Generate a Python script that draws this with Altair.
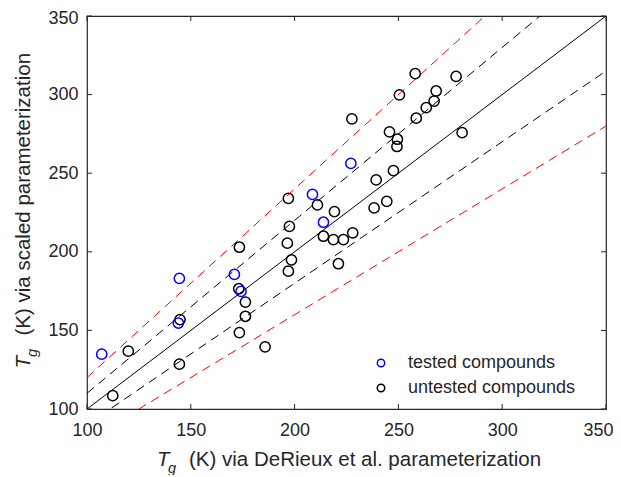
import altair as alt
import pandas as pd

# ---- data ----
tested_x = [107.1, 144.5, 144.0, 171.0, 174.2, 213.9, 208.6, 227.1]
tested_y = [134.9, 183.1, 154.7, 185.6, 174.8, 218.8, 236.5, 256.2]

untested_x = [112.4, 119.9, 144.8, 144.5, 173.4, 173.1, 176.3, 176.3, 173.4, 185.8,
              197.5, 196.5, 198.5, 197.0, 213.9, 218.7, 223.5, 228.0, 221.1, 227.6,
              197.0, 211.0, 219.2, 258.1, 277.8, 250.5, 268.2, 267.2, 263.4, 258.6,
              245.7, 249.5, 249.3, 280.7, 247.6, 239.3, 244.4, 238.3]
untested_y = [108.5, 136.8, 156.9, 128.5, 202.9, 176.5, 168.0, 159.0, 148.6, 139.5,
              216.2, 205.5, 194.9, 187.7, 209.9, 207.8, 207.8, 212.0, 192.4, 284.5,
              234.0, 229.8, 225.6, 313.3, 311.6, 299.8, 302.3, 295.9, 291.7, 285.0,
              276.3, 271.6, 267.0, 275.8, 251.6, 245.7, 232.1, 227.9]

groups = ["tested compounds", "untested compounds"]
group_colors = ["#0000ff", "#000000"]

ref_slopes_black_solid = [1.0]
ref_slopes_black_dash = [1.1, 0.9]
ref_slopes_red_dash = [1.2, 0.8]
ref_x_range = [100, 350]

tick_values = [100, 150, 200, 250, 300, 350]

x_title_parts = ["T", "g", "(K) via DeRieux et al. parameterization"]
y_title_parts = ["T", "g", "(K) via scaled parameterization"]

W, H = 519, 393
FONT = "Liberation Sans"
AX = "#262626"

# ---- tables ----
pts = pd.DataFrame({
    "x": untested_x + tested_x,
    "y": untested_y + tested_y,
    "group": [groups[1]] * len(untested_x) + [groups[0]] * len(tested_x),
    "order": [0] * len(untested_x) + [1] * len(tested_x),
})

def ref_df(slopes):
    rows = []
    for i, s in enumerate(slopes):
        for xv in ref_x_range:
            rows.append({"x": xv, "y": s * xv, "id": i})
    return pd.DataFrame(rows)

xs = alt.Scale(domain=[100, 350], nice=False, zero=False)
ys = alt.Scale(domain=[100, 350], nice=False, zero=False)

last_v = "datum.value == %d" % tick_values[-1]
x_axis = alt.Axis(values=tick_values, tickSize=0, domain=False, grid=False,
                  labelFontSize=18, labelFont=FONT, labelColor=AX, labelPadding=12,
                  labelFlush=False, title=None,
                  labelAlign={"condition": {"test": last_v, "value": "right"}, "value": "center"},
                  labelOffset={"condition": {"test": last_v, "value": 7}, "value": 0})
y_axis = alt.Axis(values=tick_values, tickSize=0, domain=False, grid=False,
                  labelFontSize=18, labelFont=FONT, labelColor=AX, labelPadding=9,
                  labelFlush=False, title=None,
                  labelOffset={"condition": {"test": last_v, "value": 2}, "value": 0})

def ref_layer(slopes, color, dash=None):
    kw = dict(color=color, strokeWidth=1, clip=True)
    if dash:
        kw["strokeDash"] = dash
    return alt.Chart(ref_df(slopes)).mark_line(**kw).encode(
        x=alt.X("x:Q", scale=xs, axis=x_axis),
        y=alt.Y("y:Q", scale=ys, axis=y_axis),
        detail="id:N",
    )

lines = (ref_layer(ref_slopes_red_dash, "#ff0000", [9, 6])
         + ref_layer(ref_slopes_black_dash, "#000000", [9, 6])
         + ref_layer(ref_slopes_black_solid, "#000000"))

points = alt.Chart(pts).mark_point(shape="circle", filled=False, size=105,
                                   strokeWidth=1.5, opacity=1).encode(
    x=alt.X("x:Q", scale=xs, axis=x_axis),
    y=alt.Y("y:Q", scale=ys, axis=y_axis),
    color=alt.Color("group:N",
                    scale=alt.Scale(domain=groups, range=group_colors),
                    legend=alt.Legend(title=None, orient="none", legendX=285, legendY=338,
                                      symbolType="circle", symbolSize=55,
                                      symbolStrokeWidth=1.5, symbolFillColor="transparent",
                                      labelFontSize=18, labelFont=FONT, labelColor="#262626",
                                      labelOffset=18, labelLimit=0, rowPadding=7, padding=0)),
    order="order:Q",
)

# inward ticks
tdf = pd.DataFrame({"v": tick_values})
tick_b = alt.Chart(tdf).mark_rule(color=AX, strokeWidth=1).encode(
    x=alt.X("v:Q", scale=xs), y=alt.value(H), y2=alt.value(H - 5))
tick_t = alt.Chart(tdf).mark_rule(color=AX, strokeWidth=1).encode(
    x=alt.X("v:Q", scale=xs), y=alt.value(0), y2=alt.value(5))
tick_l = alt.Chart(tdf).mark_rule(color=AX, strokeWidth=1).encode(
    y=alt.Y("v:Q", scale=ys), x=alt.value(0), x2=alt.value(5))
tick_r = alt.Chart(tdf).mark_rule(color=AX, strokeWidth=1).encode(
    y=alt.Y("v:Q", scale=ys), x=alt.value(W), x2=alt.value(W - 5))

# axis titles built from pieces (italic T with subscript g)
one = pd.DataFrame({"a": [0]})
def txt(s, x, y, size=20.5, italic=False, angle=0):
    kw = dict(text=s, font=FONT, fontSize=size, color="#262626", align="left",
              baseline="alphabetic", angle=angle)
    if italic:
        kw["fontStyle"] = "italic"
    return alt.Chart(one).mark_text(**kw).encode(x=alt.value(x), y=alt.value(y))

titles = (
    txt(x_title_parts[0], 70, 450, italic=True)
    + txt(x_title_parts[1], 81, 457, size=14.5, italic=True)
    + txt(x_title_parts[2], 102, 450)
    + txt(y_title_parts[0], -57, 352.5, italic=True, angle=270)
    + txt(y_title_parts[1], -50, 341, size=14.5, italic=True, angle=270)
    + txt(y_title_parts[2], -57, 319.5, angle=270)
)

chart = alt.layer(lines, tick_b, tick_t, tick_l, tick_r, points, titles).properties(
    width=W, height=H,
    autosize=alt.AutoSizeParams(type="none"),
    padding={"left": 79, "top": 8, "right": 7, "bottom": 66},
    background="white",
).configure_view(stroke=AX, strokeWidth=1.2)

chart.save("out.html", embed_options={"renderer": "svg", "actions": False})
